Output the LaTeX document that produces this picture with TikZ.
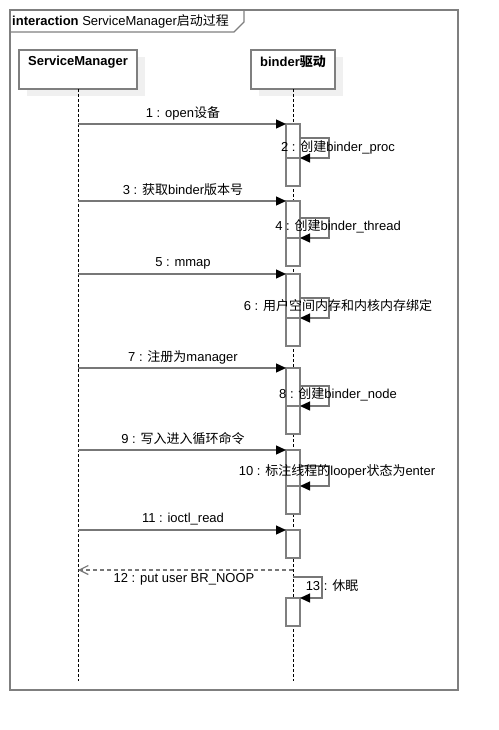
\documentclass[tikz,border=0pt]{standalone}
\usepackage{fontspec}
\setmainfont{Liberation Sans}
\newfontfamily\cjk{Noto Sans CJK SC}
\usetikzlibrary{arrows.meta}
\definecolor{linec}{HTML}{7F7F7F}
\definecolor{msgc}{HTML}{777777}
\definecolor{shadowc}{HTML}{F0F0F0}
\begin{document}
\begin{tikzpicture}[x=1pt,y=-1pt,
  font=\fontsize{13}{15}\selectfont,
  frameline/.style={draw=linec, line width=1.2pt},
  headbox/.style={draw=linec, line width=1.5pt, fill=white, inner sep=0pt, outer sep=0pt, minimum height=39pt, anchor=north west},
  headtext/.style={font=\fontsize{13}{15}\selectfont\bfseries, inner sep=0pt},
  lifeline/.style={draw=black, line width=0.8pt, dash pattern=on 3pt off 2pt},
  actbar/.style={draw=linec, line width=1.5pt, fill=white, inner sep=0pt, outer sep=0pt, minimum width=14pt, anchor=north},
  msg/.style={draw=msgc, line width=1.3pt, -{Triangle[length=10pt,width=9pt,color=black]}},
  retmsg/.style={draw=msgc, line width=1.2pt, dash pattern=on 4pt off 3pt, -{Straight Barb[length=9pt,width=9pt,color=msgc]}},
  lbl/.style={inner sep=0pt}
]
\useasboundingbox (0,0) rectangle (498,730);
% frame
\draw[frameline] (10,10) rectangle (458,690);
\draw[frameline] (10,32) -- (234,32) -- (244,22) -- (244,10);
\node[lbl, anchor=west] (title) at (12,21) {\textbf{interaction} ServiceManager{\cjk 启动过程}};
% heads
\fill[shadowc] (27,57) rectangle (145,96);
\fill[shadowc] (259,57) rectangle (343,96);
\node[headbox, minimum width=118pt] (sm) at (19,50) {};
\node[headbox, minimum width=84pt] (bd) at (251,50) {};
\node[headtext] (smt) at (78,62) {ServiceManager};
\node[headtext] (bdt) at (293,62) {binder{\cjk\bfseries 驱动}};
% lifelines
\coordinate (smend) at (78,681);
\coordinate (bdend) at (293,681);
\draw[lifeline] (sm.south) -- (smend);
\draw[lifeline] (bd.south) -- (bdend);
% activation bars
\node[actbar, minimum height=36pt] (a1) at (293,124) {};
\node[actbar, minimum height=28pt] (b1) at (293,158) {};
\node[actbar, minimum height=39pt] (a2) at (293,201) {};
\node[actbar, minimum height=28pt] (b2) at (293,238) {};
\node[actbar, minimum height=46pt] (a3) at (293,274) {};
\node[actbar, minimum height=28pt] (b3) at (293,318) {};
\node[actbar, minimum height=40pt] (a4) at (293,368) {};
\node[actbar, minimum height=28pt] (b4) at (293,406) {};
\node[actbar, minimum height=38pt] (a5) at (293,450) {};
\node[actbar, minimum height=28pt] (b5) at (293,486) {};
\node[actbar, minimum height=28pt] (a6) at (293,530) {};
\node[actbar, minimum height=28pt] (b6) at (293,598) {};
% sender points
\coordinate (s1) at (78,124);
\coordinate (s3) at (78,201);
\coordinate (s5) at (78,274);
\coordinate (s7) at (78,368);
\coordinate (s9) at (78,450);
\coordinate (s11) at (78,530);
\coordinate (r12) at (293,570);
\coordinate (t12) at (78,570);
% loop start points
\coordinate (l2) at (300,138);
\coordinate (l4) at (300,218);
\coordinate (l6) at (300,298);
\coordinate (l8) at (300,386);
\coordinate (l10) at (300,466);
\coordinate (l13) at (293,577);
% messages
\draw[msg] (s1) -- (a1.north west);
\draw[msg] (l2) -- ++(29,0) |- (b1.north east);
\draw[msg] (s3) -- (a2.north west);
\draw[msg] (l4) -- ++(29,0) |- (b2.north east);
\draw[msg] (s5) -- (a3.north west);
\draw[msg] (l6) -- ++(29,0) |- (b3.north east);
\draw[msg] (s7) -- (a4.north west);
\draw[msg] (l8) -- ++(29,0) |- (b4.north east);
\draw[msg] (s9) -- (a5.north west);
\draw[msg] (l10) -- ++(29,0) |- (b5.north east);
\draw[msg] (s11) -- (a6.north west);
\draw[retmsg] (r12) -- (t12);
\draw[msg] (l13) -- ++(29,0) |- (b6.north east);
% labels
\node[lbl] (m1) at (183,113) {1 : open{\cjk 设备}};
\node[lbl] (m2) at (338,147) {2 : {\cjk 创建}binder\_proc};
\node[lbl] (m3) at (183,190) {3 : {\cjk 获取}binder{\cjk 版本号}};
\node[lbl] (m4) at (338,226) {4 : {\cjk 创建}binder\_thread};
\node[lbl] (m5) at (183,263) {5 : mmap};
\node[lbl] (m6) at (338,306) {6 : {\cjk 用户空间内存和内核内存绑定}};
\node[lbl] (m7) at (183,357) {7 : {\cjk 注册为}manager};
\node[lbl] (m8) at (338,394) {8 : {\cjk 创建}binder\_node};
\node[lbl] (m9) at (183,439) {9 : {\cjk 写入进入循环命令}};
\node[lbl] (m10) at (337,471) {10 : {\cjk 标注线程的}looper{\cjk 状态为}enter};
\node[lbl] (m11) at (183,519) {11 : ioctl\_read};
\node[lbl] (m12) at (184,579) {12 : put user BR\_NOOP};
\node[lbl] (m13) at (332,586) {13 : {\cjk 休眠}};
\end{tikzpicture}
\end{document}
